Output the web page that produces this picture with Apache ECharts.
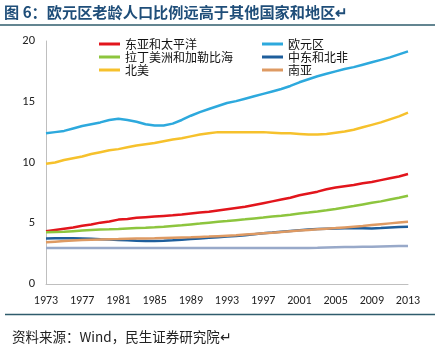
<!DOCTYPE html>
<html>
<head>
<meta charset="utf-8">
<script src="https://cdn.jsdelivr.net/npm/echarts@6/dist/echarts.min.js"></script>
<style>
  html, body { margin: 0; padding: 0; background: #fff; }
  #chart { width: 435px; height: 349px; }
</style>
</head>
<body>
<div id="chart"></div>
<script>
// 65岁及以上人口占总人口比例（%），1973–2013
const years = [];
for (let y = 1973; y <= 2013; y++) years.push(String(y));

const eastAsiaPacific = [4.35,4.45,4.55,4.65,4.8,4.9,5.05,5.15,5.3,5.35,5.45,5.5,5.55,5.6,5.65,5.72,5.8,5.88,5.95,6.05,6.15,6.25,6.35,6.5,6.65,6.8,6.95,7.1,7.3,7.45,7.6,7.8,7.95,8.05,8.15,8.3,8.4,8.55,8.7,8.85,9.05];
const euroArea = [12.4,12.5,12.6,12.8,13.0,13.15,13.3,13.5,13.6,13.5,13.35,13.15,13.05,13.05,13.2,13.5,13.85,14.15,14.4,14.65,14.9,15.05,15.25,15.45,15.65,15.85,16.05,16.3,16.6,16.85,17.1,17.3,17.5,17.7,17.85,18.05,18.25,18.45,18.65,18.9,19.15];
const latinAmerica = [4.25,4.28,4.3,4.35,4.4,4.45,4.48,4.5,4.53,4.57,4.6,4.63,4.67,4.72,4.78,4.83,4.9,4.97,5.05,5.12,5.18,5.25,5.32,5.4,5.47,5.55,5.62,5.7,5.8,5.88,5.97,6.07,6.18,6.3,6.42,6.55,6.68,6.8,6.95,7.1,7.27];
const middleEast = [3.75,3.76,3.76,3.76,3.74,3.72,3.68,3.66,3.63,3.6,3.56,3.54,3.54,3.56,3.6,3.65,3.7,3.75,3.8,3.85,3.9,3.95,4.02,4.1,4.17,4.23,4.3,4.36,4.42,4.48,4.52,4.55,4.57,4.58,4.58,4.58,4.57,4.6,4.65,4.7,4.72];
const northAmerica = [9.9,10.0,10.2,10.35,10.5,10.7,10.85,11.0,11.1,11.25,11.4,11.5,11.6,11.75,11.9,12.0,12.15,12.3,12.4,12.5,12.5,12.5,12.5,12.5,12.5,12.45,12.4,12.4,12.35,12.3,12.3,12.35,12.45,12.55,12.7,12.9,13.1,13.3,13.55,13.8,14.1];
const southAsia = [3.43,3.48,3.53,3.58,3.62,3.65,3.67,3.69,3.7,3.72,3.74,3.75,3.76,3.78,3.8,3.82,3.84,3.87,3.9,3.94,3.98,4.02,4.07,4.12,4.17,4.22,4.28,4.34,4.4,4.45,4.5,4.55,4.6,4.66,4.72,4.78,4.85,4.92,4.99,5.06,5.13];
const subSaharanAfrica = [2.96,2.96,2.96,2.96,2.96,2.96,2.96,2.96,2.96,2.96,2.96,2.96,2.96,2.96,2.96,2.96,2.96,2.96,2.96,2.96,2.96,2.96,2.96,2.96,2.96,2.96,2.96,2.97,2.97,2.97,2.98,3.0,3.02,3.04,3.05,3.06,3.07,3.09,3.11,3.12,3.13];

const yTicks = { min: 0, max: 20, interval: 5 };

const lineSeries = [
  { name: '东亚和太平洋', data: eastAsiaPacific, color: '#E2151C' },
  { name: '欧元区', data: euroArea, color: '#2DA9DD' },
  { name: '拉丁美洲和加勒比海', data: latinAmerica, color: '#8DC53E' },
  { name: '中东和北非', data: middleEast, color: '#1E5E9C' },
  { name: '北美', data: northAmerica, color: '#F6C12C' },
  { name: '南亚', data: southAsia, color: '#DE9A63' },
  { name: '撒哈拉以南非洲', data: subSaharanAfrica, color: '#98A9C9' }
];

const cjk = '"Noto Sans CJK SC", "Noto Sans", sans-serif';
const legendText = { fontFamily: cjk, fontSize: 12, color: '#111', lineHeight: 12 };

const chart = echarts.init(document.getElementById('chart'), null, { renderer: 'canvas' });
chart.setOption({
  animation: false,
  backgroundColor: '#fff',
  color: lineSeries.map(s => s.color),
  grid: { left: 46, right: 27, top: 41, bottom: 65 },
  legend: [
    {
      data: ['东亚和太平洋', '拉丁美洲和加勒比海', '北美'],
      orient: 'vertical', left: 94, top: 33,
      itemWidth: 21, itemHeight: 3, itemGap: 1, icon: 'rect',
      textStyle: legendText
    },
    {
      data: ['欧元区', '中东和北非', '南亚'],
      orient: 'vertical', left: 257, top: 33,
      itemWidth: 21, itemHeight: 3, itemGap: 1, icon: 'rect',
      textStyle: legendText
    }
  ],
  xAxis: {
    type: 'category',
    data: years,
    boundaryGap: false,
    axisLine: { lineStyle: { color: '#BFBFBF', width: 1 } },
    axisTick: { show: false },
    axisLabel: { interval: 3, margin: 11, fontSize: 12, color: '#222', fontFamily: 'Carlito, "Liberation Sans", sans-serif' },
    splitLine: { show: false }
  },
  yAxis: {
    type: 'value',
    min: yTicks.min, max: yTicks.max, interval: yTicks.interval,
    axisLine: { show: true, lineStyle: { color: '#BFBFBF', width: 1 } },
    axisTick: { show: false },
    axisLabel: { margin: 11, fontSize: 12.5, color: '#222', fontFamily: 'Carlito, "Liberation Sans", sans-serif' },
    splitLine: { show: false }
  },
  series: lineSeries.map(s => ({
    name: s.name,
    type: 'line',
    data: s.data,
    symbol: 'none',
    smooth: false,
    lineStyle: { width: 2.5, color: s.color },
    itemStyle: { color: s.color }
  })),
  graphic: [
    {
      type: 'text', left: 4, top: 5,
      style: {
        text: '图 6：欧元区老龄人口比例远高于其他国家和地区↵',
        font: 'bold 15.2px "Noto Sans CJK SC", sans-serif',
        fill: '#1F4E79'
      }
    },
    {
      type: 'line',
      shape: { x1: 0, y1: 25, x2: 435, y2: 25 },
      style: { stroke: '#2F5C6C', lineWidth: 1.5 }
    },
    {
      type: 'line',
      shape: { x1: 5, y1: 314.5, x2: 435, y2: 314.5 },
      style: { stroke: '#2F5C6C', lineWidth: 1.5 }
    },
    {
      type: 'text', left: 12, top: 330,
      style: {
        text: '资料来源：Wind，民生证券研究院↵',
        font: '13.5px "Noto Sans CJK SC", sans-serif',
        fill: '#222'
      }
    }
  ]
});
</script>
</body>
</html>
